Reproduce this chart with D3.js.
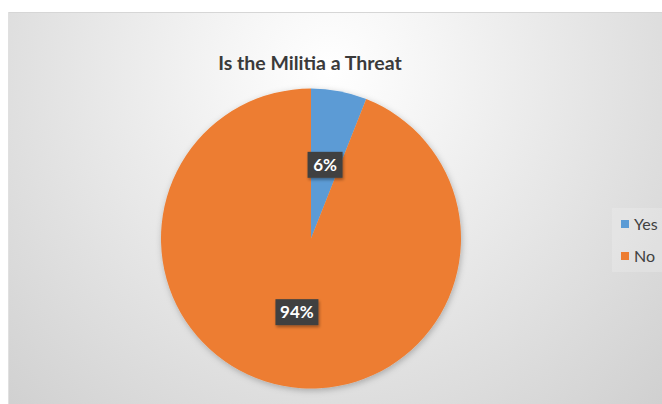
<!DOCTYPE html>
<html>
<head>
<meta charset="utf-8">
<script src="https://cdn.jsdelivr.net/npm/d3@7"></script>
<style>
  body { margin: 0; background: #fff; }
  svg { display: block; }
</style>
</head>
<body>
<svg id="chart" width="662" height="404"></svg>
<script>
// data
var categories = ["Yes", "No"];
var values = [6, 94];
var colors = ["#5B9BD5", "#ED7D31"];
var chartTitle = "Is the Militia a Threat";

var svg = d3.select("#chart");
var font = "Lato, 'Open Sans', sans-serif";

var defs = svg.append("defs");
var bg = defs.append("radialGradient")
    .attr("id", "bg")
    .attr("gradientUnits", "userSpaceOnUse")
    .attr("cx", 330).attr("cy", 70).attr("r", 470);
bg.append("stop").attr("offset", "0%").attr("stop-color", "#ffffff");
bg.append("stop").attr("offset", "22%").attr("stop-color", "#f5f5f5");
bg.append("stop").attr("offset", "100%").attr("stop-color", "#d0d0d0");

var shadow = defs.append("filter").attr("id", "shadow")
    .attr("x", "-20%").attr("y", "-20%").attr("width", "140%").attr("height", "140%");
shadow.append("feDropShadow")
    .attr("dx", 1).attr("dy", 2).attr("stdDeviation", 3)
    .attr("flood-color", "#000").attr("flood-opacity", 0.25);

var boxShadow = defs.append("filter").attr("id", "boxshadow")
    .attr("x", "-30%").attr("y", "-30%").attr("width", "160%").attr("height", "160%");
boxShadow.append("feDropShadow")
    .attr("dx", 1).attr("dy", 2).attr("stdDeviation", 1.5)
    .attr("flood-color", "#000").attr("flood-opacity", 0.35);

// chart area
svg.append("rect")
    .attr("x", 8).attr("y", 12)
    .attr("width", 662 - 8).attr("height", 404 - 12)
    .attr("fill", "url(#bg)");
svg.append("line")
    .attr("x1", 8).attr("x2", 662).attr("y1", 12.5).attr("y2", 12.5)
    .attr("stroke", "#d6d6d6");
svg.append("line")
    .attr("x1", 8.5).attr("x2", 8.5).attr("y1", 12).attr("y2", 404)
    .attr("stroke", "#e0e0e0");

svg.append("text")
    .attr("x", 310).attr("y", 70)
    .attr("text-anchor", "middle")
    .style("font", "bold 19.5px " + font)
    .style("fill", "#3a3a3a")
    .text(chartTitle);

var cx = 311, cy = 238.5, radius = 150;

var pie = d3.pie().sort(null).value(function(d) { return d; });
var arc = d3.arc().innerRadius(0).outerRadius(radius);
var arcs = pie(values);

var g = svg.append("g")
    .attr("transform", "translate(" + cx + "," + cy + ")");

g.append("g")
    .attr("filter", "url(#shadow)")
  .selectAll("path")
  .data(arcs)
  .enter().append("path")
    .attr("d", arc)
    .attr("fill", function(d, i) { return colors[i]; });

var labels = g.selectAll(".label")
  .data(arcs)
  .enter().append("g")
    .attr("class", "label")
    .attr("transform", function(d) {
      var c = arc.centroid(d);
      return "translate(" + c[0] + "," + c[1] + ")";
    });

labels.append("rect")
    .attr("filter", "url(#boxshadow)")
    .attr("fill", "#404040")
    .attr("x", function(d) { return d.data < 10 ? -17.5 : -21.5; })
    .attr("width", function(d) { return d.data < 10 ? 35 : 43; })
    .attr("y", -13).attr("height", 26);

labels.append("text")
    .attr("text-anchor", "middle")
    .attr("dy", "0.36em")
    .style("font", "bold 17px " + font)
    .style("fill", "#ffffff")
    .text(function(d) { return d.data + "%"; });

// legend
var legend = svg.append("g");
legend.append("rect")
    .attr("x", 612).attr("y", 208).attr("width", 50).attr("height", 64)
    .attr("fill", "#ffffff").attr("opacity", 0.18);

var items = legend.selectAll(".item")
  .data(categories)
  .enter().append("g")
    .attr("class", "item")
    .attr("transform", function(d, i) { return "translate(621," + (224 + i * 32) + ")"; });

items.append("rect")
    .attr("x", 0).attr("y", -4).attr("width", 8).attr("height", 8)
    .attr("fill", function(d, i) { return colors[i]; });

items.append("text")
    .attr("x", 13).attr("dy", "0.36em")
    .style("font", "16px " + font)
    .style("fill", "#404040")
    .text(function(d) { return d; });
</script>
</body>
</html>
